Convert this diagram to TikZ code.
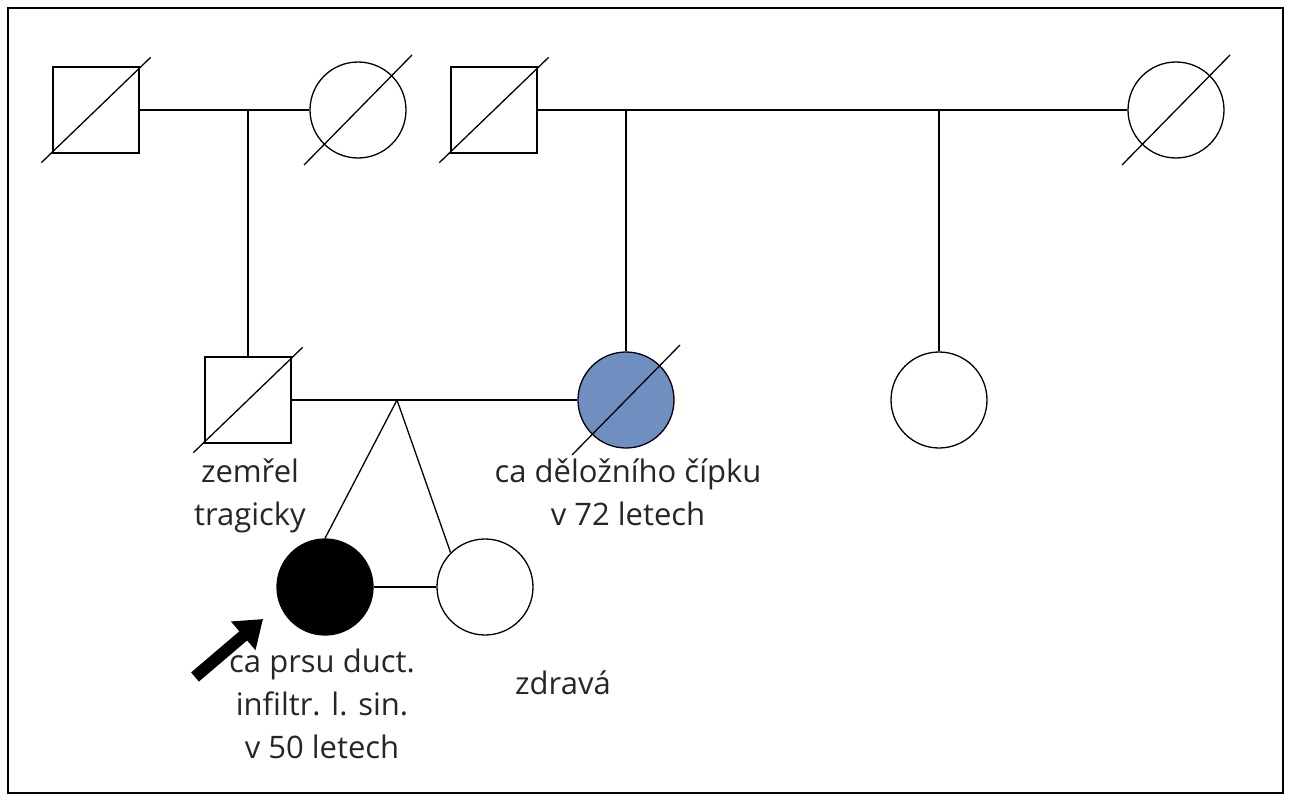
\documentclass[tikz,border=0pt]{standalone}
\usepackage{fontspec}
\setmainfont{Open Sans}
\usetikzlibrary{arrows.meta}
\definecolor{affblue}{RGB}{110,143,192}
\begin{document}
\begin{tikzpicture}[x=1pt,y=-1pt,line width=1.3pt,
  sq/.style={draw,minimum size=86pt,inner sep=0pt},
  ci/.style={draw,circle,minimum size=96pt,inner sep=0pt},
  lbl/.style={align=center,font=\fontsize{31}{43}\selectfont,text=black!85}]
\useasboundingbox (0,0) rectangle (1290,800);
\draw[line width=1.5pt] (8,8) rectangle (1283,793);
\node[sq] (a) at (96,110) {};
\node[ci] (b) at (358,110) {};
\node[sq] (c) at (494,110) {};
\node[ci] (d) at (1176,110) {};
\node[sq] (e) at (248,400) {};
\node[ci,fill=affblue] (f) at (626,400) {};
\node[ci] (g) at (939,400) {};
\node[ci,fill=black] (h) at (325,587) {};
\node[ci] (i) at (485,587) {};
\foreach \n in {a,c,e}{\draw ([shift={(-11,9)}]\n.south west) -- ([shift={(11,-9)}]\n.north east);}
\foreach \n in {b,d,f}{\draw ([shift={(-54,55)}]\n.center) -- ([shift={(54,-55)}]\n.center);}
\draw (a.east) -- (b.west);
\coordinate (m1) at (248,110);
\draw (m1) -- (e.north);
\draw (c.east) -- (d.west);
\coordinate (m2) at (626,110); \coordinate (m3) at (939,110);
\draw (m2) -- (f.north); \draw (m3) -- (g.north);
\draw (e.east) -- (f.west);
\coordinate (t) at (397,400);
\draw (t) -- (h.north); \draw (t) -- (i.north west);
\draw (h.east) -- (i.west);
\coordinate (as) at (195,677); \coordinate (ae) at (263,619);
\draw[line width=12pt,-{Triangle[length=26pt,width=36pt]}] (as) -- (ae);
\node[lbl] (l1) at (250,496) {zemřel\\tragicky};
\node[lbl] (l2) at (628,492) {ca děložního čípku\\v 72 letech};
\node[lbl] (l3) at (322,704) {ca prsu duct.\\infiltr. l. sin.\\v 50 letech};
\node[lbl] (l4) at (563,683) {zdravá};
\end{tikzpicture}
\end{document}
